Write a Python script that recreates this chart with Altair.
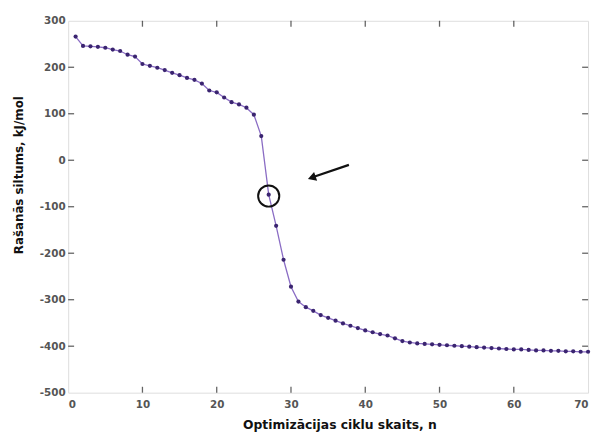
import altair as alt
import pandas as pd

# Data
cycles = list(range(1, 71))
heat = [266, 246, 245, 244, 242, 238, 235, 227, 223, 207,
        203, 199, 194, 188, 183, 177, 173, 165, 150, 146,
        135, 125, 120, 113, 98, 52, -74, -141, -214, -272,
        -304, -316, -324, -333, -339, -345, -351, -356, -361, -366,
        -370, -374, -377, -383, -389, -392, -394, -395, -396, -397,
        -398, -399, -400, -401, -402, -403, -404, -405, -406, -407,
        -407, -408, -409, -409, -410, -410, -411, -411, -412, -412]

x_ticks = [10, 20, 30, 40, 50, 60]
y_ticks = [-400, -300, -200, -100, 0, 100, 200]

# annotation: circle around the transition point and an arrow pointing at it
circle_x = [27]
circle_y = [-77]
arrow_x = [37.8]
arrow_y = [-10]
arrow_x2 = [32.6]
arrow_y2 = [-38]
head_x = [32.8]
head_y = [-37.5]

W, H = 527, 377
FONT = "DejaVu Sans"

df = pd.DataFrame({"n": cycles, "h": heat})
xs = alt.Scale(domain=[0, 70], nice=False)
ys = alt.Scale(domain=[-500, 300], nice=False)

x_axis = alt.Axis(values=list(range(0, 71, 10)), tickSize=0, domain=False, grid=False,
                  labelFont=FONT, labelFontSize=10.5, labelFontWeight="bold", labelColor="#555555",
                  labelPadding=7, labelExpr="'' + datum.value", title="Optimizācijas ciklu skaits, n",
                  titleFont=FONT, titleFontSize=12.5, titleFontWeight="bold", titleColor="#111111",
                  titlePadding=9, titleX=275)
y_axis = alt.Axis(values=list(range(-500, 301, 100)), tickSize=0, domain=False, grid=False,
                  labelFont=FONT, labelFontSize=10.5, labelFontWeight="bold", labelColor="#555555",
                  labelPadding=3, labelExpr="'' + datum.value", title="Rašanās siltums, kJ/mol",
                  titleFont=FONT, titleFontSize=12, titleFontWeight="bold", titleColor="#111111",
                  titleX=-43, titleY=156)

line = alt.Chart(df).mark_line(color="#8a6cc4", strokeWidth=1.3).encode(
    x=alt.X("n:Q", scale=xs, axis=x_axis),
    y=alt.Y("h:Q", scale=ys, axis=y_axis),
)
pts = alt.Chart(df).mark_circle(color="#3a2470", size=18, opacity=1).encode(
    x=alt.X("n:Q", scale=xs), y=alt.Y("h:Q", scale=ys)
)

xt = pd.DataFrame({"t": x_ticks})
yt = pd.DataFrame({"t": y_ticks})
tick_style = dict(color="#222222", thickness=1.3, size=6)
bottom_ticks = alt.Chart(xt).mark_tick(orient="vertical", **tick_style).encode(
    x=alt.X("t:Q", scale=xs), y=alt.value(H - 3))
top_ticks = alt.Chart(xt).mark_tick(orient="vertical", **tick_style).encode(
    x=alt.X("t:Q", scale=xs), y=alt.value(3))
left_ticks = alt.Chart(yt).mark_tick(orient="horizontal", **tick_style).encode(
    y=alt.Y("t:Q", scale=ys), x=alt.value(3))
right_ticks = alt.Chart(yt).mark_tick(orient="horizontal", **tick_style).encode(
    y=alt.Y("t:Q", scale=ys), x=alt.value(W - 3))

circ = alt.Chart(pd.DataFrame({"x": circle_x, "y": circle_y})).mark_point(
    shape="circle", size=460, stroke="#111111", strokeWidth=2, filled=False, opacity=1
).encode(x=alt.X("x:Q", scale=xs), y=alt.Y("y:Q", scale=ys))

arrow = alt.Chart(pd.DataFrame({"x": arrow_x, "y": arrow_y, "x2": arrow_x2, "y2": arrow_y2})).mark_rule(
    color="#111111", strokeWidth=2.2
).encode(x=alt.X("x:Q", scale=xs), y=alt.Y("y:Q", scale=ys), x2="x2:Q", y2="y2:Q")

head = alt.Chart(pd.DataFrame({"x": head_x, "y": head_y})).mark_point(
    shape="triangle-up", size=90, filled=True, color="#111111", opacity=1, angle=251
).encode(x=alt.X("x:Q", scale=xs), y=alt.Y("y:Q", scale=ys))

chart = alt.layer(line, pts, bottom_ticks, top_ticks, left_ticks, right_ticks, circ, arrow, head).properties(
    width=W, height=H,
    autosize=alt.AutoSizeParams(type="none"),
    padding={"left": 61, "top": 10, "right": 5, "bottom": 45},
).configure_view(stroke="#222222", strokeWidth=1.4).configure(background="white")

chart.save("out.html", embed_options={"renderer": "svg", "actions": False})
